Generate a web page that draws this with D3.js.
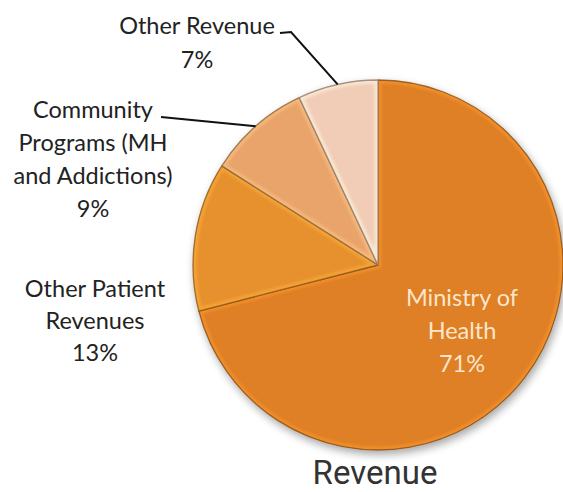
<!DOCTYPE html>
<html>
<head>
<meta charset="utf-8">
<script src="https://cdn.jsdelivr.net/npm/d3@7"></script>
<style>
  body { margin: 0; background: #fff; }
  svg { display: block; }
</style>
</head>
<body>
<script>
'use strict';

// slices, clockwise from 12 o'clock
var names = ["Ministry of Health", "Other Patient Revenues", "Community Programs (MH and Addictions)", "Other Revenue"];
var values = [71, 13, 9, 7];
var labelLines = [
  ["Ministry of", "Health", "71%"],
  ["Other Patient", "Revenues", "13%"],
  ["Community", "Programs (MH", "and Addictions)", "9%"],
  ["Other Revenue", "7%"]
];
var colors = ["#df7f26", "#e7912f", "#e9a46c", "#f1cdb8"];
var title = "Revenue";

var width = 563, height = 492;
var cx = 378, cy = 265, radius = 185;

// label layout: x centre, first baseline, line step, and where the leader starts
var labelLayout = [
  {x: 462, y: 306, step: 33, color: "#fbe6cb"},
  {x: 95, y: 297, step: 32, color: "#222"},
  {x: 93, y: 118, step: 33, color: "#222", lead: [[161, 117]]},
  {x: 197, y: 34, step: 34, color: "#222", lead: [[280, 33], [291, 32]]}
];

var svg = d3.select("body").append("svg")
  .attr("width", width)
  .attr("height", height);

var defs = svg.append("defs");
var shadow = defs.append("filter").attr("id", "shadow")
  .attr("x", "-20%").attr("y", "-20%").attr("width", "140%").attr("height", "140%");
shadow.append("feGaussianBlur").attr("in", "SourceAlpha").attr("stdDeviation", 4);
shadow.append("feOffset").attr("dx", 2).attr("dy", 4).attr("result", "b");
shadow.append("feComponentTransfer").append("feFuncA").attr("type", "linear").attr("slope", 0.35);
var merge = shadow.append("feMerge");
merge.append("feMergeNode");
merge.append("feMergeNode").attr("in", "SourceGraphic");

var soft = defs.append("filter").attr("id", "soft");
soft.append("feGaussianBlur").attr("stdDeviation", 1.5);

var pie = d3.pie().sort(null).value(function(d) { return d; });
var arcs = pie(values);
var arc = d3.arc().innerRadius(0).outerRadius(radius);

var g = svg.append("g").attr("transform", "translate(" + cx + "," + cy + ")");

arcs.forEach(function(d, i) {
  defs.append("clipPath").attr("id", "clip" + i)
    .append("path").attr("d", arc(d));
});

var pieG = g.append("g").attr("filter", "url(#shadow)");

var slices = pieG.selectAll("g.slice")
  .data(arcs)
  .enter().append("g").attr("class", "slice");

slices.append("path")
  .attr("d", arc)
  .attr("fill", function(d, i) { return colors[i]; });

// bevel: light inner rim, dark outer line
slices.append("path")
  .attr("d", arc)
  .attr("fill", "none")
  .attr("stroke", function(d, i) { return d3.color(colors[i]).brighter(0.6); })
  .attr("stroke-width", 7)
  .attr("opacity", 0.55)
  .attr("clip-path", function(d, i) { return "url(#clip" + i + ")"; })
  .attr("filter", "url(#soft)");

slices.append("path")
  .attr("d", arc)
  .attr("fill", "none")
  .attr("stroke", function(d, i) { return d3.color(colors[i]).darker(1.4); })
  .attr("stroke-width", 1.3)
  .attr("stroke-linejoin", "round")
  .attr("opacity", 0.8);

// leader lines to the outer edge at each slice's mid angle
var edge = d3.arc().innerRadius(radius).outerRadius(radius);
arcs.forEach(function(d, i) {
  var L = labelLayout[i];
  if (!L.lead) return;
  var p = edge.centroid(d);
  var pts = L.lead.map(function(q) { return [q[0] - cx, q[1] - cy]; });
  pts.push(p);
  g.append("path")
    .attr("d", d3.line()(pts))
    .attr("fill", "none")
    .attr("stroke", "#111")
    .attr("stroke-width", 2);
});

// labels
labelLayout.forEach(function(L, i) {
  var t = svg.append("text")
    .attr("text-anchor", "middle")
    .attr("font-family", "Lato, 'Open Sans', sans-serif")
    .attr("font-size", 23.5)
    .attr("fill", L.color);
  labelLines[i].forEach(function(s, j) {
    t.append("tspan").attr("x", L.x).attr("y", L.y + j * L.step).text(s);
  });
});

svg.append("text")
  .attr("x", 375)
  .attr("y", 484)
  .attr("text-anchor", "middle")
  .attr("font-family", "Roboto, sans-serif")
  .attr("font-size", 33)
  .attr("fill", "#333")
  .text(title);
</script>
</body>
</html>
